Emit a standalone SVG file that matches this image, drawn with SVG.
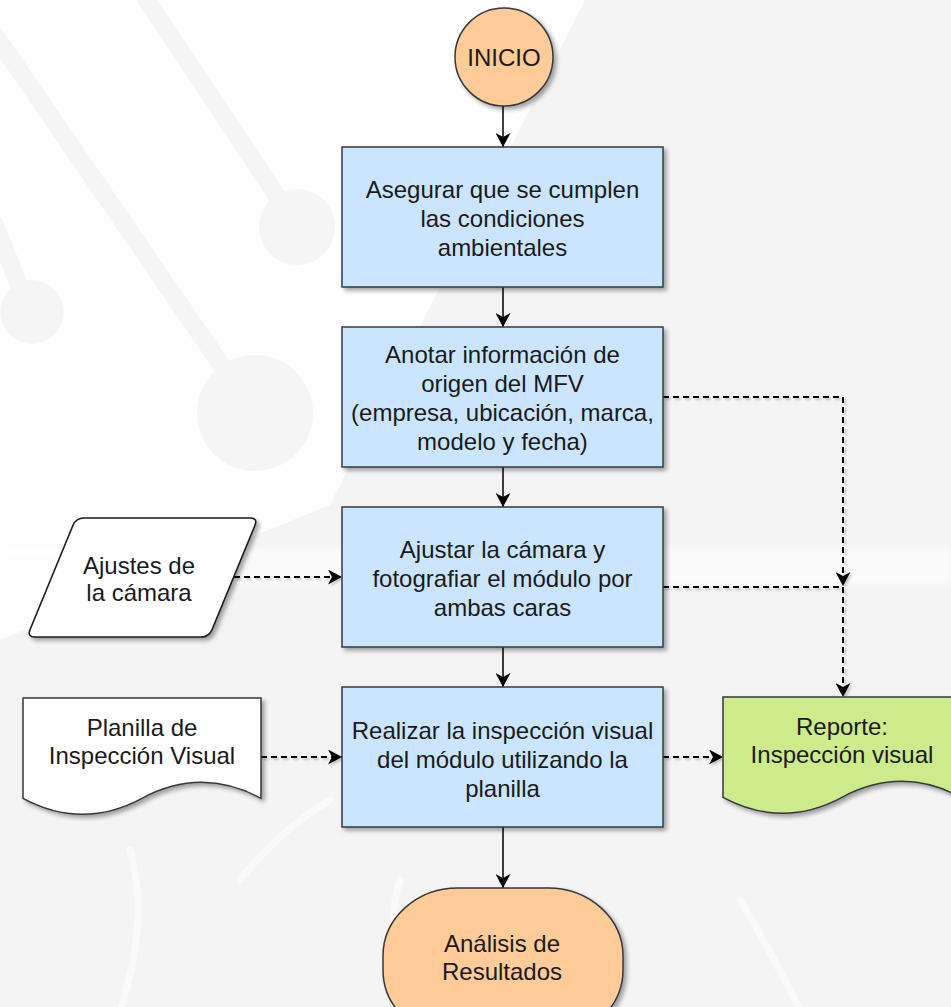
<svg xmlns="http://www.w3.org/2000/svg" width="951" height="1007" viewBox="0 0 951 1007">
  <defs>
    <filter id="shadow" x="-10%" y="-10%" width="130%" height="130%">
      <feDropShadow dx="3" dy="3" stdDeviation="2" flood-color="#000" flood-opacity="0.35"/>
    </filter>
    <filter id="lineShadow" x="-10%" y="-10%" width="130%" height="130%">
      <feDropShadow dx="2" dy="2" stdDeviation="1.2" flood-color="#000" flood-opacity="0.2"/>
    </filter>
    <filter id="soft" x="-20%" y="-20%" width="140%" height="140%">
      <feGaussianBlur stdDeviation="3"/>
    </filter>
    <marker id="arrow" viewBox="0 0 15 15" refX="14" refY="7.5" markerWidth="15" markerHeight="15" markerUnits="userSpaceOnUse" orient="auto">
      <path d="M0,0 L14,7.5 L0,15 L4,7.5 Z" fill="#000"/>
    </marker>
    <style>
      .proc { fill: #cce5ff; stroke: #36393d; stroke-width: 1.5; filter: url(#shadow); }
      .term { fill: #ffcc99; stroke: #36393d; stroke-width: 1.5; filter: url(#shadow); }
      .io { fill: #ffffff; stroke: #1a1a1a; stroke-width: 1.5; filter: url(#shadow); }
      .doc { fill: #ffffff; stroke: #36393d; stroke-width: 1.5; filter: url(#shadow); }
      .report { fill: #cdeb8b; stroke: #36393d; stroke-width: 1.5; filter: url(#shadow); }
      .label { font-family: "Liberation Sans", Arial, sans-serif; font-size: 24px; fill: #1a1a1a; text-anchor: middle; }
      .flow { fill: none; stroke: #000; stroke-width: 1.5; marker-end: url(#arrow); }
      .dashed { fill: none; stroke: #000; stroke-width: 2; stroke-dasharray: 6 4; marker-end: url(#arrow); }
      .stripe { stroke: #f5f5f5; stroke-width: 18; stroke-linecap: round; fill: none; }
      .dot { fill: #f5f5f5; }
      .streak { stroke: #ffffff; stroke-width: 7; stroke-linecap: round; fill: none; opacity: 0.55; }
    </style>
  </defs>

  <!-- backdrop with faint circuit watermark -->
  <g id="backdrop">
    <rect x="0" y="0" width="951" height="1007" fill="#f4f4f4"/>
    <polygon points="0,0 585,0 330,505 0,640" fill="#ffffff" opacity="0.85"/>
    <line class="stripe" x1="140" y1="-10" x2="285" y2="208"/>
    <circle class="dot" cx="297" cy="227" r="38"/>
    <line class="stripe" x1="-5" y1="35" x2="235" y2="385"/>
    <circle class="dot" cx="255" cy="413" r="58"/>
    <line class="stripe" x1="-5" y1="225" x2="22" y2="292"/>
    <circle class="dot" cx="32" cy="312" r="32"/>
    <rect x="0" y="548" width="951" height="36" fill="#ffffff" opacity="0.6" filter="url(#soft)"/>
    <path class="streak" d="M130,850 Q150,920 120,1010"/>
    <path class="streak" d="M240,880 Q280,830 330,800"/>
    <path class="streak" d="M400,880 Q380,940 420,1010"/>
    <path class="streak" d="M740,900 Q770,950 800,1010"/>
  </g>

  <!-- connectors -->
  <g id="connectors">
    <path class="flow" d="M503,106 V147"/>
    <path class="flow" d="M503,287 V327"/>
    <path class="flow" d="M503,467 V507"/>
    <path class="flow" d="M503,647 V687"/>
    <path class="flow" d="M503,827 V888"/>
    <g filter="url(#lineShadow)">
      <path class="dashed" d="M234,577 H342"/>
      <path class="dashed" d="M261,757 H342"/>
      <path class="dashed" d="M663,757 H723"/>
      <path class="dashed" d="M663,397 H843 V586"/>
      <path class="dashed" d="M663,587 H843 V697"/>
    </g>
  </g>

  <g id="inicio">
    <circle class="term" cx="504" cy="57" r="49"/>
    <text class="label" x="504" y="66">INICIO</text>
  </g>

  <g id="condiciones">
    <rect class="proc" x="342" y="147" width="321" height="140"/>
    <text class="label" x="502.5" y="198">Asegurar que se cumplen</text>
    <text class="label" x="502.5" y="227">las condiciones</text>
    <text class="label" x="502.5" y="256">ambientales</text>
  </g>

  <g id="anotar">
    <rect class="proc" x="342" y="327" width="321" height="140"/>
    <text class="label" x="502.5" y="363">Anotar información de</text>
    <text class="label" x="502.5" y="392">origen del MFV</text>
    <text class="label" x="502.5" y="421">(empresa, ubicación, marca,</text>
    <text class="label" x="502.5" y="450">modelo y fecha)</text>
  </g>

  <g id="fotografiar">
    <rect class="proc" x="342" y="507" width="321" height="140"/>
    <text class="label" x="502.5" y="558">Ajustar la cámara y</text>
    <text class="label" x="502.5" y="587">fotografiar el módulo por</text>
    <text class="label" x="502.5" y="616">ambas caras</text>
  </g>

  <g id="inspeccion">
    <rect class="proc" x="342" y="687" width="321" height="140"/>
    <text class="label" x="502.5" y="739">Realizar la inspección visual</text>
    <text class="label" x="502.5" y="768">del módulo utilizando la</text>
    <text class="label" x="502.5" y="797">planilla</text>
  </g>

  <g id="ajustes-camara">
    <path class="io" d="M84,518 L250,518 Q258,518 254.95,525.4 L212.05,629.6 Q209,637 201,637 L35,637 Q27,637 30.05,629.6 L72.95,525.4 Q76,518 84,518 Z"/>
    <text class="label" x="139" y="574">Ajustes de</text>
    <text class="label" x="139" y="601">la cámara</text>
  </g>

  <g id="planilla">
    <path class="doc" d="M23,698 H261 V798.3 Q201.5,766.4 142,798.3 Q82.5,830.2 23,798.3 Z"/>
    <text class="label" x="142" y="736">Planilla de</text>
    <text class="label" x="142" y="764">Inspección Visual</text>
  </g>

  <g id="reporte">
    <path class="report" d="M723,697 H961 V797.3 Q901.5,765.4 842,797.3 Q782.5,829.2 723,797.3 Z"/>
    <text class="label" x="842" y="735">Reporte:</text>
    <text class="label" x="842" y="763">Inspección visual</text>
  </g>

  <g id="analisis">
    <rect class="term" x="383" y="888" width="240" height="150" rx="75" ry="68"/>
    <text class="label" x="502" y="952">Análisis de</text>
    <text class="label" x="502" y="980">Resultados</text>
  </g>
</svg>
